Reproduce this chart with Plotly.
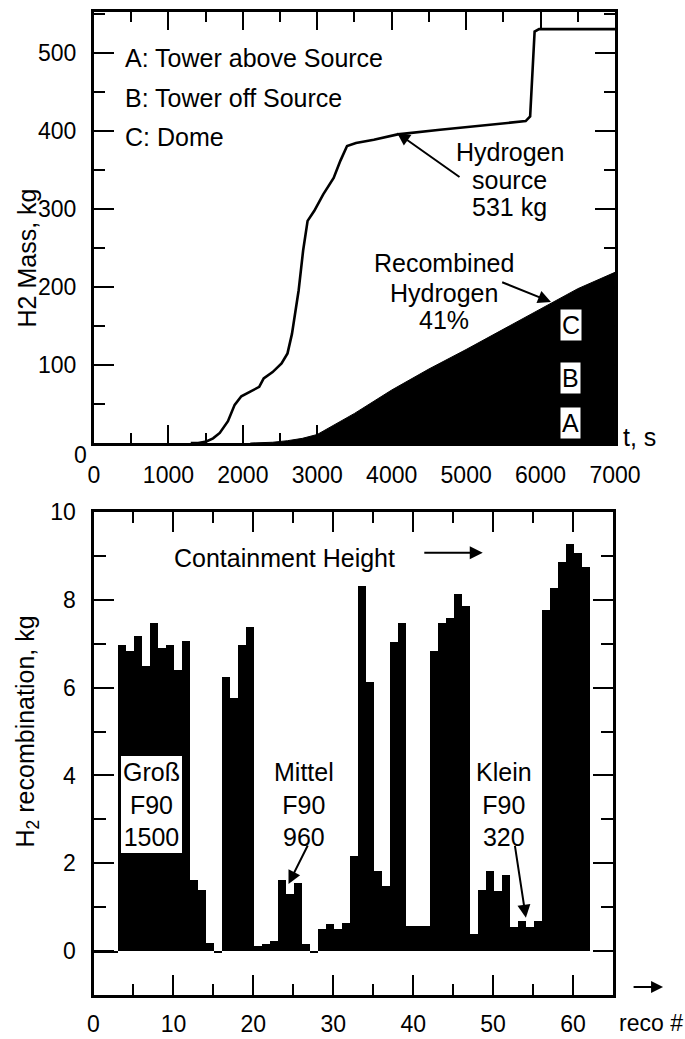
import plotly.graph_objects as go

# ---------------- top chart data ----------------
source_t = [1300, 1400, 1510, 1600, 1690, 1800, 1890, 1980, 2100, 2220, 2280, 2400, 2520, 2600,
            2660, 2750, 2810, 2870, 2960, 3080, 3220, 3310, 3400, 3520, 3760, 4080, 4650, 5240,
            5800, 5860, 5920, 5980, 7000]
source_kg = [0, 0, 2, 6, 13, 28, 49, 60, 66, 72, 83, 91, 102, 115,
             140, 196, 247, 285, 298, 319, 340, 362, 381, 385, 389, 396, 402, 408,
             413, 419, 528, 531, 531]

recomb_t = [2100, 2400, 2600, 2800, 3000, 3250, 3500, 4000, 4500, 5000, 5500, 6000, 6500, 7000]
recomb_kg = [0, 1, 3, 6, 11, 24, 38, 68, 95, 120, 146, 172, 198, 219]

# ---------------- bottom chart data ----------------
reco = list(range(62))
recomb_per_reco = [-0.05, -0.05, -0.05,
                   6.98, 6.83, 7.18, 6.5, 7.47, 6.9, 6.98, 6.4, 7.07,
                   1.63, 1.38, 0.19, -0.05,
                   6.25, 5.76, 6.98, 7.37,
                   0.11, 0.15, 0.24,
                   1.63, 1.3, 1.55,
                   0.15, -0.05,
                   0.5, 0.62, 0.5, 0.63,
                   2.16, 8.32, 6.12, 1.83, 1.48,
                   7.05, 7.48,
                   0.58, 0.58, 0.58,
                   6.83, 7.48, 7.58, 8.13, 7.86,
                   0.4, 1.38, 1.82, 1.37, 1.74,
                   0.55, 0.68, 0.55, 0.68,
                   7.77, 8.26, 8.86, 9.27, 9.07, 8.75]

FONT = "Liberation Sans, Arial, Helvetica, sans-serif"
BIG = 25
TICK = 23

fig = go.Figure()

fig.add_trace(go.Scatter(x=recomb_t, y=recomb_kg, mode="lines", fill="tozeroy",
                         fillcolor="black", line=dict(color="black", width=1),
                         xaxis="x", yaxis="y", hoverinfo="skip"))
fig.add_trace(go.Scatter(x=source_t, y=source_kg, mode="lines",
                         line=dict(color="black", width=2.6),
                         xaxis="x", yaxis="y", hoverinfo="skip"))

fig.add_trace(go.Bar(x=reco, y=recomb_per_reco, width=1, offset=0,
                     marker=dict(color="black", line=dict(width=0)),
                     xaxis="x2", yaxis="y2", hoverinfo="skip"))

axis_common = dict(showline=True, linewidth=3, linecolor="black", mirror="ticks",
                   ticks="inside", tickwidth=2, tickcolor="black", showgrid=False,
                   zeroline=False, automargin=False,
                   tickfont=dict(family=FONT, size=TICK, color="black"))

fig.update_layout(
    template="none",
    width=685, height=1039, margin=dict(l=0, r=0, t=0, b=0, pad=0),
    paper_bgcolor="white", plot_bgcolor="white", showlegend=False,
    bargap=0,
    xaxis=dict(domain=[0.1372, 0.8978], range=[0, 7000], anchor="y",
               tickmode="linear", tick0=0, dtick=1000, ticklen=18,
               minor=dict(ticks="inside", dtick=500, tick0=0, ticklen=10, tickwidth=2,
                          tickcolor="black"),
               ticklabelstandoff=9, **axis_common),
    yaxis=dict(domain=[0.5736, 0.98845], range=[0, 553], anchor="x",
               tickmode="array", tickvals=[100, 200, 300, 400, 500],
               ticktext=["100", "200", "300", "400", "500"], ticklen=20,
               minor=dict(ticks="inside", dtick=50, tick0=0, ticklen=11, tickwidth=2,
                          tickcolor="black"),
               ticklabelstandoff=10, **axis_common),
    xaxis2=dict(domain=[0.1365, 0.8949], range=[0, 65], anchor="y2",
                tickmode="linear", tick0=0, dtick=10, ticklen=20,
                minor=dict(ticks="inside", dtick=5, tick0=0, ticklen=11, tickwidth=2,
                           tickcolor="black"),
                ticklabelstandoff=6, **axis_common),
    yaxis2=dict(domain=[0.04235, 0.5072], range=[-1, 10], anchor="x2",
                tickmode="array", tickvals=[0, 2, 4, 6, 8, 10], ticklen=20,
                minor=dict(ticks="inside", dtick=1, tick0=0, ticklen=12, tickwidth=2,
                           tickcolor="black"),
                ticklabelstandoff=10, **axis_common),
)

ann = []
tf = dict(family=FONT, size=BIG, color="black")

def txt(text, x, y, xref, yref, xanchor="center", **kw):
    d = dict(text=text, x=x, y=y, xref=xref, yref=yref, showarrow=False,
             xanchor=xanchor, yanchor="middle", font=tf)
    d.update(kw)
    ann.append(d)

def arrow(x, y, ax, ay, xref, yref):
    ann.append(dict(text="", x=x, y=y, ax=ax, ay=ay, xref=xref, yref=yref,
                    axref=xref, ayref=yref, showarrow=True, arrowhead=2,
                    arrowsize=1.3, arrowwidth=2, arrowcolor="black"))

# top chart texts
txt("A: Tower above Source", 390, 494, "x", "y", xanchor="left")
txt("B: Tower off Source", 390, 443, "x", "y", xanchor="left")
txt("C: Dome", 390, 393, "x", "y", xanchor="left")
txt("Hydrogen", 5589, 373, "x", "y")
txt("source", 5589, 337, "x", "y")
txt("531 kg", 5589, 303, "x", "y")
arrow(4071, 398, 4931, 340, "x", "y")
txt("Recombined", 4697, 231, "x", "y")
txt("Hydrogen", 4697, 192, "x", "y")
txt("41%", 4697, 158, "x", "y")
arrow(6140, 181, 5464, 207, "x", "y")
for lab, yv in [("C", 151), ("B", 83), ("A", 26)]:
    txt(lab, 6407, yv, "x", "y", bgcolor="white", borderpad=1)
txt("0", 0.1175, 0.5621, "paper", "paper", font=dict(family=FONT, size=TICK, color="black"))
txt("t, s", 0.9066, 0.5794, "paper", "paper", xanchor="left")
txt("H2 Mass, kg", 0.0401, 0.7517, "paper", "paper", textangle=-90)

# bottom chart texts
txt("Containment Height", 9.85, 8.95, "x2", "y2", xanchor="left")
arrow(48.7, 9.07, 41.2, 9.07, "x2", "y2")
txt("Groß<br>F90<br>1500", 7.3, 3.34, "x2", "y2", bgcolor="white",
    bordercolor="black", borderwidth=1, borderpad=2)
txt("Mittel<br>F90<br>960", 26.3, 3.34, "x2", "y2")
arrow(24.4, 1.53, 26.9, 2.44, "x2", "y2")
txt("Klein<br>F90<br>320", 51.4, 3.34, "x2", "y2")
arrow(54.1, 0.76, 52.7, 2.43, "x2", "y2")
txt("H<sub>2</sub> recombination, kg", 0.0394, 0.296, "paper", "paper", textangle=-90)
txt("reco #", 1.0, 0.0154, "paper", "paper", xanchor="right",
    font=dict(family=FONT, size=TICK, color="black"))
ann.append(dict(text="", x=0.968, y=0.05, xref="paper", yref="paper", ax=-31, ay=0,
                showarrow=True, arrowhead=2, arrowsize=1.2, arrowwidth=2,
                arrowcolor="black"))

fig.update_layout(annotations=ann)
fig.write_html("out.html", config={"displayModeBar": False},
               post_script="document.body.style.margin='0';"
                           "document.body.style.overflow='hidden';")
